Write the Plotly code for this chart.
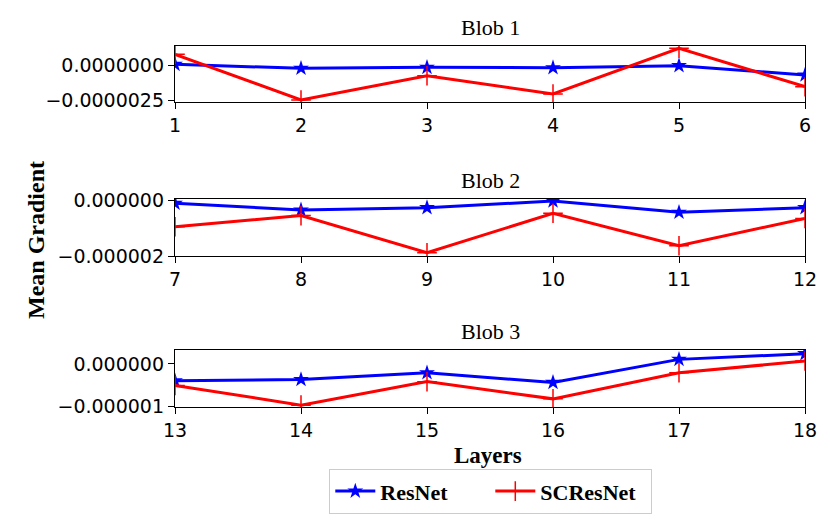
import plotly.graph_objects as go

# layers per blob
blob1_layers = [1, 2, 3, 4, 5, 6]
blob2_layers = [7, 8, 9, 10, 11, 12]
blob3_layers = [13, 14, 15, 16, 17, 18]

# mean gradient values
resnet_blob1 = [0.10e-6, -0.19e-6, -0.12e-6, -0.15e-6, 0.0e-6, -0.68e-6]
scresnet_blob1 = [0.83e-6, -2.50e-6, -0.73e-6, -2.06e-6, 1.27e-6, -1.53e-6]

resnet_blob2 = [-0.094e-6, -0.336e-6, -0.253e-6, -0.011e-6, -0.42e-6, -0.253e-6]
scresnet_blob2 = [-0.94e-6, -0.54e-6, -1.88e-6, -0.456e-6, -1.63e-6, -0.64e-6]

resnet_blob3 = [-0.40e-6, -0.37e-6, -0.21e-6, -0.44e-6, 0.11e-6, 0.245e-6]
scresnet_blob3 = [-0.51e-6, -0.98e-6, -0.42e-6, -0.83e-6, -0.21e-6, 0.07e-6]

blob_titles = ["Blob 1", "Blob 2", "Blob 3"]

W, H = 830, 520
OFF = 8  # page body margin, the figure starts 8px in


def px(p):
    return (p - OFF) / W


def py(p):
    return 1 - (p - OFF) / H


tick_font = dict(family="DejaVu Sans", size=19, color="black")
serif = "Liberation Serif, Times New Roman, serif"

panels = [
    (blob1_layers, resnet_blob1, scresnet_blob1, [45.7, 102], [-2.646e-6, 1.458e-6], [0, -2.5e-6], ".7f"),
    (blob2_layers, resnet_blob2, scresnet_blob2, [199, 256], [-2.0e-6, 0.061e-6], [0, -2e-6], ".6f"),
    (blob3_layers, resnet_blob3, scresnet_blob3, [350, 407.3], [-1.031e-6, 0.333e-6], [0, -1e-6], ".6f"),
]

fig = go.Figure()
layout = dict()
annotations = []

for i, (xs, res, scres, ypix, yrange, yticks, fmt) in enumerate(panels, start=1):
    sfx = "" if i == 1 else str(i)
    fig.add_trace(go.Scatter(
        x=xs, y=res, name="ResNet", mode="lines+markers",
        line=dict(color="blue", width=3),
        marker=dict(symbol="star", size=12, color="blue"),
        xaxis="x" + sfx, yaxis="y" + sfx, showlegend=(i == 1),
    ))
    fig.add_trace(go.Scatter(
        x=xs, y=scres, name="SCResNet", mode="lines+markers",
        line=dict(color="red", width=3),
        marker=dict(symbol="cross-thin", size=14, line=dict(color="red", width=1.5)),
        xaxis="x" + sfx, yaxis="y" + sfx, showlegend=(i == 1),
    ))
    common = dict(
        showline=True, mirror=True, linecolor="black", linewidth=1.3,
        ticks="outside", ticklen=6, tickwidth=1.3, tickcolor="black",
        showgrid=False, zeroline=False, tickfont=tick_font, automargin=False,
    )
    layout["xaxis" + sfx] = dict(
        domain=[px(175), px(805)], range=[xs[0], xs[-1]],
        tickvals=xs, anchor="y" + sfx, **common,
    )
    layout["yaxis" + sfx] = dict(
        domain=[py(ypix[1]), py(ypix[0])], range=yrange,
        tickvals=yticks, tickformat=fmt, anchor="x" + sfx, **common,
    )
    annotations.append(dict(
        text=blob_titles[i - 1], x=px(490), y=py(ypix[0] - 4),
        xref="paper", yref="paper", xanchor="center", yanchor="bottom",
        showarrow=False, font=dict(family=serif, size=22, color="black"),
    ))

annotations.append(dict(
    text="<b>Mean Gradient</b>", x=px(36), y=py(240), textangle=-90,
    xref="paper", yref="paper", xanchor="center", yanchor="middle",
    showarrow=False, font=dict(family=serif, size=24, color="black"),
))
annotations.append(dict(
    text="<b>Layers</b>", x=px(488), y=py(455), textangle=0,
    xref="paper", yref="paper", xanchor="center", yanchor="middle",
    showarrow=False, font=dict(family=serif, size=23, color="black"),
))

fig.update_layout(
    **layout,
    annotations=annotations,
    width=W, height=H,
    margin=dict(l=0, r=0, t=0, b=0),
    paper_bgcolor="white", plot_bgcolor="white",
    legend=dict(
        orientation="h", x=px(329), xanchor="left", y=py(469), yanchor="top",
        bgcolor="white", bordercolor="#cccccc", borderwidth=1.3,
        font=dict(family=serif, size=22, color="black", weight="bold"),
        itemwidth=40, entrywidth=105,
    ),
)

fig.write_html("out.html")
